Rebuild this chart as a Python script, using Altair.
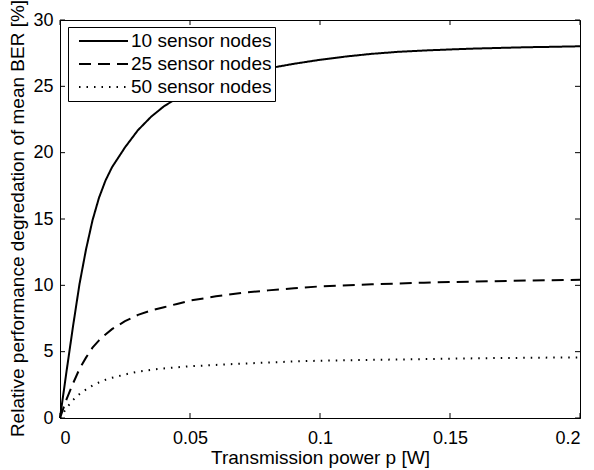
import altair as alt
import pandas as pd

series_names = ["10 sensor nodes", "25 sensor nodes", "50 sensor nodes"]

p10 = [0, 0.0025, 0.005, 0.0075, 0.01, 0.0125, 0.015, 0.0175, 0.02, 0.025, 0.03,
       0.035, 0.04, 0.045, 0.05, 0.06, 0.07, 0.08, 0.09, 0.1, 0.11, 0.12, 0.13,
       0.14, 0.15, 0.16, 0.17, 0.18, 0.19, 0.2]
v10 = [0, 3.5, 6.9, 10.1, 12.7, 14.9, 16.6, 17.9, 18.9, 20.4, 21.7,
       22.7, 23.5, 24.1, 24.6, 25.4, 25.9, 26.35, 26.7, 27.0, 27.25, 27.45, 27.6,
       27.7, 27.78, 27.85, 27.9, 27.95, 27.98, 28.02]

p25 = [0, 0.0025, 0.005, 0.0075, 0.01, 0.0125, 0.015, 0.0175, 0.02, 0.025, 0.03,
       0.035, 0.04, 0.045, 0.05, 0.06, 0.07, 0.08, 0.09, 0.1, 0.12, 0.14, 0.16,
       0.18, 0.2]
v25 = [0, 1.4, 2.6, 3.7, 4.55, 5.3, 5.85, 6.3, 6.7, 7.3, 7.77,
       8.1, 8.35, 8.6, 8.85, 9.17, 9.43, 9.62, 9.78, 9.92, 10.08, 10.2, 10.29,
       10.36, 10.42]

p50 = [0, 0.0025, 0.005, 0.0075, 0.01, 0.0125, 0.015, 0.0175, 0.02, 0.025, 0.03,
       0.035, 0.04, 0.045, 0.05, 0.06, 0.07, 0.08, 0.09, 0.1, 0.12, 0.14, 0.16,
       0.18, 0.2]
v50 = [0, 0.75, 1.35, 1.8, 2.15, 2.45, 2.68, 2.88, 3.03, 3.28, 3.5,
       3.63, 3.74, 3.82, 3.9, 4.0, 4.1, 4.18, 4.26, 4.32, 4.38, 4.44, 4.5,
       4.54, 4.57]

x_ticks = [0, 0.05, 0.1, 0.15, 0.2]
y_ticks = [0, 5, 10, 15, 20, 25, 30]

rows = []
for name, ps, vs in zip(series_names, [p10, p25, p50], [v10, v25, v50]):
    for i, (p, v) in enumerate(zip(ps, vs)):
        rows.append({"series": name, "p": p, "v": v, "order": i})
df = pd.DataFrame(rows)

W, H = 520, 398
FONT = "Liberation Sans"

xscale = alt.Scale(domain=[0, 0.2], nice=False, zero=False)
yscale = alt.Scale(domain=[0, 30], nice=False)

xaxis = alt.Axis(values=x_ticks, format="~g", title="Transmission power p [W]",
                 labelPadding=11, titleY=45, titleBaseline="alphabetic")
yaxis = alt.Axis(values=y_ticks, title="Relative performance degredation of mean BER [%]",
                 labelPadding=7, titleX=-43, titleY=H / 2 - 1, titleAngle=270,
                 titleBaseline="middle", titleAlign="center")

x_enc = alt.X("p:Q", scale=xscale, axis=xaxis)
y_enc = alt.Y("v:Q", scale=yscale, axis=yaxis)

lines = alt.Chart(df).mark_line(color="black").encode(
    x=x_enc,
    y=y_enc,
    order="order:Q",
    strokeDash=alt.StrokeDash(
        "series:N",
        scale=alt.Scale(domain=series_names, range=[[1, 0], [12, 7], [1.5, 6]]),
        legend=alt.Legend(
            title=None, orient="none", legendX=8, legendY=7,
            padding=3, clipHeight=22, rowPadding=1,
            symbolType="stroke", symbolSize=2401, symbolOffset=7,
            symbolStrokeColor="black", symbolStrokeWidth=2,
            labelOffset=2, labelFont=FONT, labelFontSize=19, labelColor="black",
            fillColor="white", strokeColor="black",
        ),
    ),
    strokeWidth=alt.StrokeWidth(
        "series:N",
        scale=alt.Scale(domain=series_names, range=[2, 2, 1.5]),
        legend=None,
    ),
)

xt = pd.DataFrame({"p": x_ticks})
yt = pd.DataFrame({"v": y_ticks})

xt_bottom = alt.Chart(xt).mark_rule(color="black", strokeWidth=1).encode(
    x=x_enc, y=alt.value(H), y2=alt.value(H - 5))
xt_top = alt.Chart(xt).mark_rule(color="black", strokeWidth=1).encode(
    x=x_enc, y=alt.value(0), y2=alt.value(5))
yt_left = alt.Chart(yt).mark_rule(color="black", strokeWidth=1).encode(
    y=y_enc, x=alt.value(0), x2=alt.value(5))
yt_right = alt.Chart(yt).mark_rule(color="black", strokeWidth=1).encode(
    y=y_enc, x=alt.value(W), x2=alt.value(W - 5))

chart = alt.layer(xt_bottom, xt_top, yt_left, yt_right, lines).properties(
    width=W, height=H,
    autosize=alt.AutoSizeParams(type="none"),
    padding={"left": 60, "top": 20, "right": 14, "bottom": 52},
    background="white",
).configure_axis(
    grid=False, ticks=False, tickSize=0,
    domain=True, domainColor="black", domainWidth=1,
    labelFont=FONT, labelFontSize=18, labelColor="black",
    titleFont=FONT, titleFontSize=19, titleFontWeight="normal", titleColor="black",
).configure_view(
    stroke="black", strokeWidth=1,
)

chart.save("out.html", embed_options={"renderer": "svg", "actions": False})
